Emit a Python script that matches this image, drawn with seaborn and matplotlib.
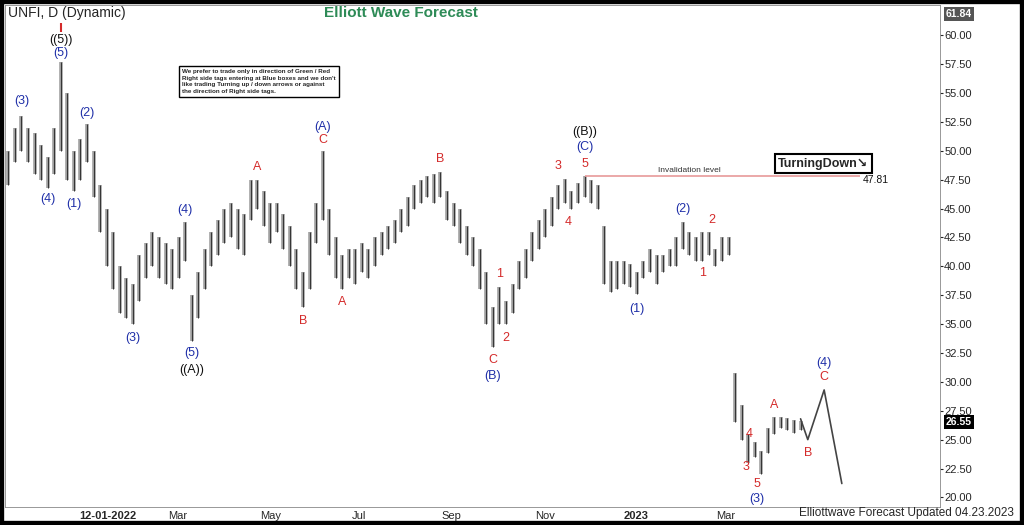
import numpy as np
import pandas as pd
import matplotlib
matplotlib.use("Agg")
import matplotlib.pyplot as plt
import seaborn as sns

bar_low = [47, 49, 50, 49, 48, 47.5, 46.8, 48, 50, 47.5, 46.5, 47.5, 49, 46, 43, 40, 38, 36, 35.5, 35,
           37, 39, 40, 39, 38.5, 38, 39, 40.5, 33.5, 35.5, 38, 40, 41, 42, 42.5, 41.5, 41, 44, 45, 43.5,
           42, 43, 41.5, 40, 38, 36.5, 38, 42, 44, 41, 39, 38, 39, 38.5, 39.5, 39, 40, 41, 41.5, 42,
           43, 43.5, 45, 45.5, 46, 45.5, 46, 44, 43.5, 42, 41, 40, 38, 35, 33, 35, 35, 36, 38, 39,
           40.5, 41.5, 42.5, 43.5, 45, 45.5, 45, 45.5, 46, 45.5, 45, 38.5, 37.8, 38, 38.5, 38.2, 37.6, 39, 39.5, 38.5,
           39.5, 40, 40, 41.5, 41, 40.5, 40.5, 41, 40, 40.5, 41, 26.5, 25, 23, 23.5, 22, 23.8, 25.5, 26, 25.8,
           25.6, 25.8]
bar_high = [50, 52, 53, 52, 51.5, 50.5, 49.5, 52, 57.7, 55, 50, 51, 52.3, 50, 47, 45, 43, 40, 39, 38.5,
            41, 42, 43, 42.5, 42, 41.5, 42.5, 43.8, 37.5, 39.5, 41.5, 43, 44, 45, 45.5, 45, 44.5, 47.5, 47.5, 46.5,
            45.5, 45.5, 44.5, 43.5, 41.5, 39.5, 43, 45.5, 50, 45, 42.5, 41, 41.5, 41.5, 42, 41.5, 42.5, 43, 43.5, 44,
            45, 46, 47, 47.5, 47.8, 48, 48.2, 46.5, 45.5, 45, 43.5, 42.5, 41.5, 39.5, 36.5, 38.2, 37, 38.5, 40.5, 41.5,
            43, 44, 45, 46, 47, 47.6, 46.5, 47.2, 47.8, 47.5, 47, 43.5, 40.5, 40.5, 40.5, 40.2, 39.5, 40.5, 41.5, 41,
            41, 41.5, 42.5, 43.8, 43, 42.5, 43, 43, 41.5, 42.5, 42.5, 30.8, 28, 25.5, 24.8, 24, 26, 27, 27, 26.9,
            26.7, 26.6]

# Projected path (bar index, price)
proj_x = [121, 122.1, 124.6, 127.3]
proj_y = [26.8, 25.0, 29.3, 21.2]

tick_pos = [15.2, 25.9, 40, 53.6, 67.7, 81.9, 95.9, 109.6]
tick_labels = ["12-01-2022", "Mar", "May", "Jul", "Sep", "Nov", "2023", "Mar"]

# wave labels: (text, bar index, price, colour)
BLUE, RED, BLK = "#1f2fa8", "#d42a2a", "#111111"
wave_labels = [
    ("(3)", 2, 54.3, BLUE), ("(4)", 6, 45.8, BLUE), ("(5)", 8, 58.5, BLUE), ("((5))", 8, 59.6, BLK),
    ("(1)", 10, 45.4, BLUE), ("(2)", 12, 53.3, BLUE), ("(3)", 19, 33.8, BLUE), ("(4)", 27, 44.9, BLUE),
    ("(5)", 28, 32.5, BLUE), ("((A))", 28, 31.0, BLK), ("A", 38, 48.6, RED), ("B", 45, 35.3, RED),
    ("(A)", 48, 52.1, BLUE), ("C", 48, 50.9, RED), ("A", 51, 36.9, RED), ("B", 66, 49.3, RED),
    ("C", 74, 31.9, RED), ("(B)", 74, 30.5, BLUE), ("1", 75, 39.3, RED), ("2", 76, 33.8, RED),
    ("3", 84, 48.7, RED), ("4", 85.5, 43.8, RED), ("5", 88, 48.9, RED), ("(C)", 88, 50.3, BLUE),
    ("((B))", 88, 51.6, BLK), ("(1)", 96, 36.3, BLUE), ("(2)", 103, 45.0, BLUE), ("1", 106, 39.4, RED),
    ("2", 107.5, 44.0, RED), ("3", 112.7, 22.6, RED), ("4", 113.2, 25.5, RED), ("5", 114.3, 21.2, RED),
    ("(3)", 114.3, 19.9, BLUE), ("A", 117, 28.0, RED), ("B", 122.1, 23.8, RED), ("C", 124.6, 30.4, RED),
    ("(4)", 124.6, 31.6, BLUE),
]

sns.set_style("white")
plt.rcParams["font.family"] = ["Liberation Sans", "DejaVu Sans"]

fig = plt.figure(figsize=(10.24, 5.25), dpi=100, facecolor="white")
ax = fig.add_axes([0.005, 0.035, 0.913, 0.955])

idx = np.arange(len(bar_low))
ax.vlines(idx, bar_low, bar_high, color="#a0a0a0", lw=2.6)
ax.vlines(idx, bar_low, bar_high, color="#333333", lw=0.7)

sns.lineplot(x=proj_x, y=proj_y, ax=ax, color="#444444", lw=1.2, sort=False)

# invalidation line
ax.hlines(47.81, 88, 130, color="#e89a9a", lw=1.2)
ax.text(104, 48.0, "Invalidation level", fontsize=6, color="#333333", ha="center", va="bottom")
ax.text(130.5, 47.5, "47.81", fontsize=7.5, color="#111111", va="center")
ax.text(124.5, 48.9, "TurningDown\u2198", fontsize=9, fontweight="bold", ha="center", va="center",
        bbox=dict(boxstyle="square,pad=0.25", fc="white", ec="black", lw=1.5))

for t, x, y, c in wave_labels:
    ax.text(x, y, t, color=c, fontsize=9, ha="center", va="center")
ax.vlines(8, 60.3, 61.1, color=RED, lw=1.5)

ax.text(0, 61.9, "UNFI, D (Dynamic)", fontsize=10, va="center", ha="left")
ax.text(60, 61.9, "Elliott Wave Forecast", fontsize=11, fontweight="bold", color="#2e8b57",
        va="center", ha="center")
ax.text(26.5, 56.0, "We prefer to trade only in direction of Green / Red\nRight side tags entering at Blue boxes and we don't\n"
        "like trading Turning up / down arrows or against\nthe direction of Right side tags.",
        fontsize=4.5, fontweight="bold", va="center", ha="left", linespacing=1.35,
        bbox=dict(boxstyle="square,pad=0.5", fc="white", ec="black", lw=1))

ax.set_xlim(-0.5, 142.3)
ax.set_ylim(19.2, 62.6)
ax.yaxis.tick_right()
yt = np.arange(20, 60.1, 2.5)
ax.set_yticks(yt)
ax.set_yticklabels([f"{v:.2f}" for v in yt], fontsize=8)
ax.set_xticks(tick_pos)
ax.set_xticklabels(tick_labels, fontsize=8)
for lab in ax.get_xticklabels():
    if lab.get_text() in ("12-01-2022", "2023"):
        lab.set_fontweight("bold")
ax.tick_params(axis="both", length=2, pad=1)
for s in ax.spines.values():
    s.set_color("#888888")
    s.set_linewidth(0.6)

# price tags on the right
ax.text(143.2, 61.84, "61.84", fontsize=7.5, color="white", fontweight="bold", va="center",
        clip_on=False, bbox=dict(boxstyle="square,pad=0.2", fc="#555555", ec="none"))
ax.text(143.2, 26.55, "26.55", fontsize=7.5, color="white", fontweight="bold", va="center",
        clip_on=False, bbox=dict(boxstyle="square,pad=0.2", fc="black", ec="none"))
fig.text(0.99, 0.012, "Elliottwave Forecast Updated 04.23.2023", fontsize=8.5, ha="right", va="bottom")

# dark frame around the figure
fig.patches.append(plt.Rectangle((0, 0), 1, 1, transform=fig.transFigure, fill=False, ec="black", lw=6))

fig.savefig("out.png", dpi=100)
